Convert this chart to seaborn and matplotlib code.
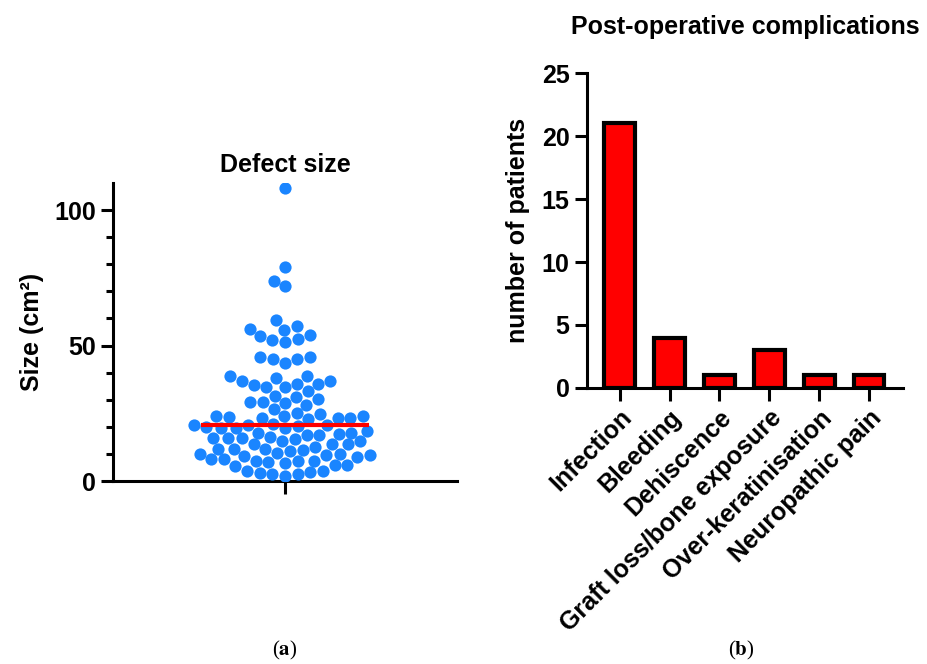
import numpy as np
import pandas as pd
import matplotlib.pyplot as plt
import seaborn as sns

# -------------- Data ------------------

# defect sizes (cm2)
defect_size = [
    108, 79, 74, 72,
    59.3, 57.1, 56.2, 55.9,
    53.8, 53.6, 52.3, 51.9, 51.4,
    45.7, 45.6, 44.9, 44.9, 43.6,
    38.6, 38.6, 38.0, 36.8, 36.8, 35.8, 35.8, 35.6, 34.7, 34.7, 33.1,
    31.2, 30.9, 30.2, 29.1, 29.1, 28.8, 28.0, 26.7,
    25.1, 24.7, 24.1, 24.1, 24.1, 23.5, 23.2, 23.2, 23.2, 23.0,
    21.0, 20.8, 20.6, 20.6, 20.4, 19.9, 19.7, 19.7, 19.6,
    18.5, 17.9, 17.9, 17.3, 17.0, 17.0, 16.4, 16.0, 16.0, 15.8, 15.4,
    14.6, 14.6, 13.6, 13.6,
    13.6, 12.7, 11.9, 11.9, 11.9, 11.5, 10.9, 10.2, 10.0,
    10.0, 9.6, 9.6, 9.3, 8.8, 8.0, 8.0, 7.5,
    7.4, 7.4, 6.9, 6.6, 5.9, 5.9, 5.7,
    3.8, 3.8, 3.2, 2.9, 2.6, 2.6, 2.0,
]

complications = ["Infection", "Bleeding", "Dehiscence", "Graft loss/bone exposure",
                 "Over-keratinisation", "Neuropathic pain"]
patients = [21, 4, 1, 3, 1, 1]

# -------------- Style ------------------

sns.set_style("ticks")
plt.rcParams["font.family"] = ["Liberation Sans", "DejaVu Sans"]
plt.rcParams["font.weight"] = "bold"
plt.rcParams["axes.labelweight"] = "bold"
plt.rcParams["axes.titleweight"] = "bold"
plt.rcParams["text.color"] = "black"
plt.rcParams["axes.labelcolor"] = "black"
plt.rcParams["axes.edgecolor"] = "black"
plt.rcParams["xtick.color"] = "black"
plt.rcParams["ytick.color"] = "black"
plt.rcParams["axes.linewidth"] = 2.2
plt.rcParams["xtick.major.width"] = 2.2
plt.rcParams["ytick.major.width"] = 2.2
plt.rcParams["ytick.minor.width"] = 2.2
plt.rcParams["mathtext.fontset"] = "stix"

fig = plt.figure(figsize=(9.27, 6.64), dpi=100)

# -------------- (a) Defect size ------------------

ax1 = fig.add_axes([0.122, 0.2756, 0.371, 0.4488])
sns.swarmplot(y=defect_size, ax=ax1, color="#1A85FF", size=8.8, linewidth=0)
ax1.hlines(np.median(defect_size), -0.245, 0.245, color="#FF0000", lw=3, zorder=5)

ax1.set_xlim(-0.5, 0.5)
ax1.set_ylim(0, 110)
ax1.set_yticks([0, 50, 100])
ax1.set_yticks(np.arange(10, 110, 10), minor=True)
ax1.set_xticks([0])
ax1.set_xticklabels([""])
ax1.tick_params(axis="y", which="major", length=9, labelsize=18)
ax1.tick_params(axis="y", which="minor", length=5)
ax1.tick_params(axis="x", length=9)
ax1.set_ylabel("Size (cm²)", fontsize=18, labelpad=7)
ax1.set_title("Defect size", fontsize=18, pad=8)
sns.despine(ax=ax1)

# -------------- (b) Complications ------------------

ax2 = fig.add_axes([0.633, 0.4157, 0.341, 0.4743])
sns.barplot(x=complications, y=patients, ax=ax2, color="#FF0000", saturation=1,
            edgecolor="black", linewidth=3, width=0.62)

ax2.set_xlim(-0.66, 5.68)
ax2.set_ylim(0, 25)
ax2.set_yticks([0, 5, 10, 15, 20, 25])
ax2.tick_params(axis="y", length=9, labelsize=18)
ax2.tick_params(axis="x", length=9, labelsize=18)
plt.setp(ax2.get_xticklabels(), rotation=45, ha="right", rotation_mode="anchor")
ax2.set_ylabel("number of patients", fontsize=18, labelpad=8)
ax2.set_xlabel("")
ax2.set_title("Post-operative complications", fontsize=18, pad=28)
sns.despine(ax=ax2)

# -------------- Captions ------------------

fig.text(0.307, 0.013, r"($\mathbf{a}$)", ha="center", fontsize=15,
         family="Liberation Serif", weight="normal")
fig.text(0.800, 0.013, r"($\mathbf{b}$)", ha="center", fontsize=15,
         family="Liberation Serif", weight="normal")

plt.savefig("out.png", dpi=100)
